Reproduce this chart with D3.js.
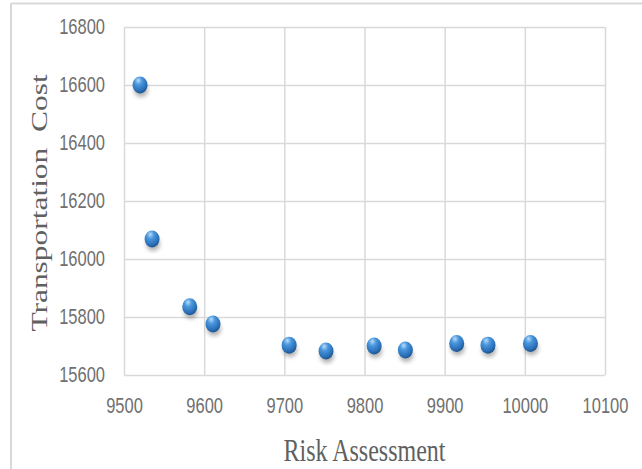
<!DOCTYPE html>
<html>
<head>
<meta charset="utf-8">
<script src="https://cdn.jsdelivr.net/npm/d3@7"></script>
<style>
  body { margin: 0; background: #fff; }
  svg { display: block; }
</style>
</head>
<body>
<div id="chart"></div>
<script>
// Data
const riskValues = [9520, 9535, 9582, 9611, 9706, 9752, 9812, 9851, 9915, 9954, 10007];
const costValues = [16600, 16069, 15835, 15776, 15703, 15683, 15700, 15686, 15709, 15703, 15709];
const xTicks = [9500, 9600, 9700, 9800, 9900, 10000, 10100];
const yTicks = [15600, 15800, 16000, 16200, 16400, 16600, 16800];
const xTitle = "Risk Assessment";
const yTitle = "Transportation\u00a0\u00a0Cost";

const W = 642, H = 469;
const margin = { top: 27, right: 37, bottom: 94, left: 124 },
    width = W - margin.left - margin.right,
    height = H - margin.top - margin.bottom;

const svg = d3.select("#chart").append("svg")
    .attr("width", W)
    .attr("height", H);

// outer frame (only top and left edges show)
svg.append("line").attr("x1", 11).attr("x2", W).attr("y1", 3.5).attr("y2", 3.5)
    .attr("stroke", "#d9d9d9").attr("stroke-width", 2);
svg.append("line").attr("x1", 11).attr("x2", 11).attr("y1", 3).attr("y2", H)
    .attr("stroke", "#d9d9d9").attr("stroke-width", 2);

// sphere gradient + shadow
const defs = svg.append("defs");
const grad = defs.append("radialGradient").attr("id", "ball")
    .attr("cx", "40%").attr("cy", "30%").attr("r", "70%").attr("fx", "38%").attr("fy", "22%");
grad.append("stop").attr("offset", "0%").attr("stop-color", "#b9dcfa");
grad.append("stop").attr("offset", "35%").attr("stop-color", "#4a97de");
grad.append("stop").attr("offset", "80%").attr("stop-color", "#2a6fb8");
grad.append("stop").attr("offset", "100%").attr("stop-color", "#1d558f");
const blur = defs.append("filter").attr("id", "shadow")
    .attr("x", "-50%").attr("y", "-50%").attr("width", "200%").attr("height", "200%");
blur.append("feGaussianBlur").attr("stdDeviation", 2);

const g = svg.append("g")
    .attr("transform", `translate(${margin.left},${margin.top})`);

const x = d3.scaleLinear().domain([9500, 10100]).range([0, width]);
const y = d3.scaleLinear().domain([15600, 16800]).range([height, 0]);

// gridlines
g.append("g")
    .attr("class", "grid-x")
    .call(d3.axisBottom(x).tickValues(xTicks).tickSize(height).tickFormat(""))
    .call(a => a.select(".domain").remove())
    .selectAll("line").attr("stroke", "#d9d9d9").attr("stroke-width", 1.5);

g.append("g")
    .attr("class", "grid-y")
    .call(d3.axisLeft(y).tickValues(yTicks).tickSize(-width).tickFormat(""))
    .call(a => a.select(".domain").remove())
    .selectAll("line").attr("stroke", "#d9d9d9").attr("stroke-width", 1.5);

// tick labels (narrow, tall look of the original)
const tickFont = "'Liberation Sans', Arial, sans-serif";

const xAxis = g.append("g")
    .attr("transform", `translate(0,${height})`)
    .call(d3.axisBottom(x).tickValues(xTicks).tickSize(0).tickPadding(0).tickFormat(d3.format("d")));
xAxis.select(".domain").remove();
xAxis.selectAll("text")
    .attr("y", 0).attr("dy", 0)
    .attr("transform", "translate(0,38) scale(1,1.3)")
    .attr("font-family", tickFont).attr("font-size", 16.5).attr("fill", "#707070");

const yAxis = g.append("g")
    .call(d3.axisLeft(y).tickValues(yTicks).tickSize(0).tickPadding(0).tickFormat(d3.format("d")));
yAxis.select(".domain").remove();
yAxis.selectAll("text")
    .attr("x", 0).attr("dy", 0)
    .attr("transform", "translate(-19,6) scale(1,1.3)")
    .attr("font-family", tickFont).attr("font-size", 16.5).attr("fill", "#707070");

// points
const pts = riskValues.map((r, i) => ({ r: r, c: costValues[i] }));

g.selectAll(".shadow").data(pts).enter().append("ellipse")
    .attr("class", "shadow")
    .attr("cx", d => x(d.r) + 1)
    .attr("cy", d => y(d.c) + 5)
    .attr("rx", 7).attr("ry", 7)
    .attr("fill", "#000").attr("opacity", 0.3)
    .attr("filter", "url(#shadow)");

g.selectAll(".dot").data(pts).enter().append("ellipse")
    .attr("class", "dot")
    .attr("cx", d => x(d.r))
    .attr("cy", d => y(d.c))
    .attr("rx", 7.5).attr("ry", 8.5)
    .attr("fill", "url(#ball)");

// axis titles
svg.append("text")
    .attr("transform", `translate(${margin.left + width / 2},${H - 8}) scale(1,1.28)`)
    .attr("text-anchor", "middle")
    .attr("font-family", "'Liberation Serif', 'Times New Roman', serif")
    .attr("font-size", 24)
    .attr("fill", "#606060")
    .text(xTitle);

svg.append("text")
    .attr("transform", `translate(47,203) rotate(-90) scale(1.31,1)`)
    .attr("text-anchor", "middle")
    .attr("font-family", "'Liberation Serif', 'Times New Roman', serif")
    .attr("font-size", 24)
    .attr("fill", "#606060")
    .text(yTitle);
</script>
</body>
</html>
